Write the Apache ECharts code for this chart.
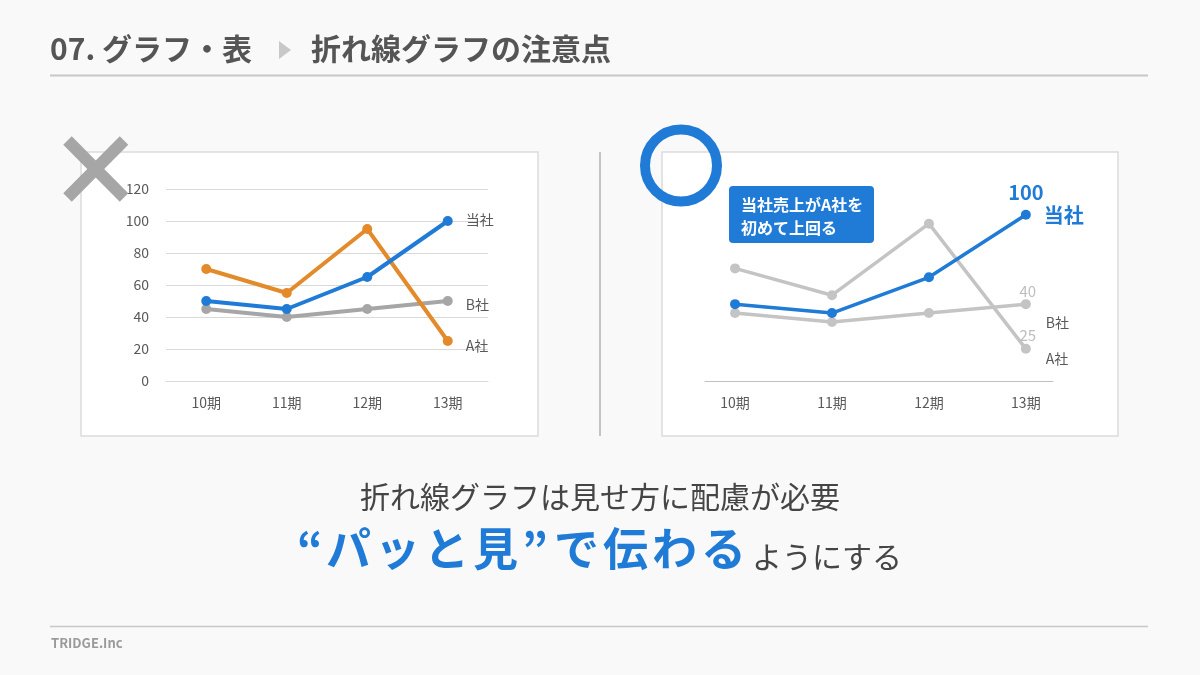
<!DOCTYPE html>
<html>
<head>
<meta charset="utf-8">
<script src="https://cdn.jsdelivr.net/npm/echarts@6/dist/echarts.min.js"></script>
<style>
html,body{margin:0;padding:0;background:#f9f9f9;}
#c{width:1200px;height:675px;}
</style>
</head>
<body>
<div id="c"></div>
<script>
// ---- data ----
const categories = ['10期', '11期', '12期', '13期'];
const ourSales = [50, 45, 65, 100];   // 当社
const companyA = [70, 55, 95, 25];    // A社
const companyB = [45, 40, 45, 50];    // B社
const seriesNames = ['当社', 'A社', 'B社'];
const yTicks = [0, 20, 40, 60, 80, 100, 120];
// value texts printed at the end of the right-hand chart (as shown in the picture)
const rightEndTexts = { ours: '100', B: '40', A: '25' };
const headline = '“パッと見”で伝わる';
const headlineTail = 'ようにする';

const FONT = '"Noto Sans CJK JP", "Noto Sans", sans-serif';
const BLUE = '#1f7bd6';
const ORANGE = '#e38a2a';
const GRAY_L = '#a6a6a6';
const GRAY_R = '#c4c4c4';
const LABEL = '#595959';

function lastLabel(arr, opts) {
  return arr.map((v, i) => i === arr.length - 1 ? { value: v, label: opts } : v);
}
function pairsWithLast(arr, lab) {
  return arr.map((v, i) => i === arr.length - 1 ? { value: [i, v], label: lab } : [i, v]);
}

const headlineRich = Array.from(headline).map(c =>
  c === '“' ? '{qo|“}' : c === '”' ? '{qc|”}' : '{a|' + c + '}'
).join('') + '{b|' + headlineTail + '}';

const chart = echarts.init(document.getElementById('c'), null, { renderer: 'canvas' });

const leftNameLabel = (name, dy) => ({
  show: true, position: 'right', distance: 13, offset: [0, dy],
  formatter: name, color: LABEL, fontSize: 14, fontFamily: FONT
});

const option = {
  backgroundColor: '#f9f9f9',
  animation: false,
  textStyle: { fontFamily: FONT },
  grid: [
    { left: 166, right: 712, top: 189, bottom: 294 },
    { left: 705, right: 147, top: 179, bottom: 294 }
  ],
  xAxis: [
    {
      gridIndex: 0, type: 'category', data: categories, boundaryGap: true,
      axisLine: { lineStyle: { color: '#d9d9d9', width: 1 } },
      axisTick: { show: false },
      axisLabel: { color: LABEL, fontSize: 14, margin: 15, fontFamily: FONT }
    },
    {
      gridIndex: 1, type: 'value', min: -0.31, max: 3.28,
      axisLine: { show: true, onZero: false, lineStyle: { color: '#c0c0c0', width: 1 } },
      axisTick: { show: false },
      splitLine: { show: false },
      axisLabel: {
        customValues: [0, 1, 2, 3],
        formatter: v => categories[Math.round(v)],
        color: LABEL, fontSize: 14, margin: 15, fontFamily: FONT
      }
    }
  ],
  yAxis: [
    {
      gridIndex: 0, type: 'value', min: 0, max: 120, interval: 20,
      axisLine: { show: false }, axisTick: { show: false },
      splitLine: { lineStyle: { color: '#d9d9d9', width: 1 } },
      axisLabel: { color: LABEL, fontSize: 14, margin: 17, fontFamily: FONT,
        customValues: yTicks }
    },
    {
      gridIndex: 1, type: 'value', min: 7, max: 120, show: false
    }
  ],
  series: [
    // left chart
    {
      name: seriesNames[2], type: 'line', xAxisIndex: 0, yAxisIndex: 0,
      data: lastLabel(companyB, leftNameLabel('B社', 4)),
      symbol: 'circle', symbolSize: 10,
      lineStyle: { color: GRAY_L, width: 4 }, itemStyle: { color: GRAY_L }, z: 2
    },
    {
      name: seriesNames[1], type: 'line', xAxisIndex: 0, yAxisIndex: 0,
      data: lastLabel(companyA, leftNameLabel('A社', 5)),
      symbol: 'circle', symbolSize: 10,
      lineStyle: { color: ORANGE, width: 4 }, itemStyle: { color: ORANGE }, z: 3
    },
    {
      name: seriesNames[0], type: 'line', xAxisIndex: 0, yAxisIndex: 0,
      data: lastLabel(ourSales, leftNameLabel('当社', -1)),
      symbol: 'circle', symbolSize: 10,
      lineStyle: { color: BLUE, width: 4 }, itemStyle: { color: BLUE }, z: 4
    },
    // right chart
    {
      name: seriesNames[1], type: 'line', xAxisIndex: 1, yAxisIndex: 1,
      data: pairsWithLast(companyA, {
        show: true, position: 'top', distance: 1, offset: [2, 0],
        formatter: rightEndTexts.A, color: '#bdbdbd', fontSize: 15, fontFamily: FONT
      }),
      symbol: 'circle', symbolSize: 10,
      lineStyle: { color: GRAY_R, width: 3.5 }, itemStyle: { color: GRAY_R },
      endLabel: { show: true, formatter: 'A社', distance: 20, offset: [0, 10],
        color: LABEL, fontSize: 14, fontFamily: FONT },
      z: 2
    },
    {
      name: seriesNames[2], type: 'line', xAxisIndex: 1, yAxisIndex: 1,
      data: pairsWithLast(companyB, {
        show: true, position: 'top', distance: 0, offset: [2, 0],
        formatter: rightEndTexts.B, color: '#bdbdbd', fontSize: 15, fontFamily: FONT
      }),
      symbol: 'circle', symbolSize: 10,
      lineStyle: { color: GRAY_R, width: 3.5 }, itemStyle: { color: GRAY_R },
      endLabel: { show: true, formatter: 'B社', distance: 20, offset: [0, 19],
        color: LABEL, fontSize: 14, fontFamily: FONT },
      z: 2
    },
    {
      name: seriesNames[0], type: 'line', xAxisIndex: 1, yAxisIndex: 1,
      data: pairsWithLast(ourSales, {
        show: true, position: 'top', distance: 7, offset: [0, 0],
        formatter: rightEndTexts.ours, color: BLUE, fontSize: 20, fontWeight: 'bold', fontFamily: FONT
      }),
      symbol: 'circle', symbolSize: 10,
      lineStyle: { color: BLUE, width: 3.5 }, itemStyle: { color: BLUE },
      endLabel: { show: true, formatter: '当社', distance: 18, offset: [0, 1],
        color: BLUE, fontSize: 20, fontWeight: 'bold', fontFamily: FONT },
      z: 4
    }
  ],
  graphic: [
    // chart boxes
    { type: 'rect', z: -10, shape: { x: 81, y: 152, width: 457, height: 284 },
      style: { fill: '#ffffff', stroke: '#dcdcdc', lineWidth: 1.5 } },
    { type: 'rect', z: -10, shape: { x: 662, y: 152, width: 456, height: 284 },
      style: { fill: '#ffffff', stroke: '#dcdcdc', lineWidth: 1.5 } },
    // divider
    { type: 'line', z: -10, shape: { x1: 600, y1: 152, x2: 600, y2: 436 },
      style: { stroke: '#c4c4c4', lineWidth: 2 } },
    // header
    { type: 'text', z: 10, style: { text: '07. グラフ・表', x: 50, y: 49,
      font: 'bold 30px ' + FONT, fill: '#555555', align: 'left', verticalAlign: 'middle',
      textAlign: 'left', textVerticalAlign: 'middle' } },
    { type: 'polygon', z: 10, shape: { points: [[279, 41], [291, 50], [279, 59]] },
      style: { fill: '#c8c8c8' } },
    { type: 'text', z: 10, style: { text: '折れ線グラフの注意点', x: 311, y: 49,
      font: 'bold 30px ' + FONT, fill: '#555555', align: 'left', verticalAlign: 'middle',
      textAlign: 'left', textVerticalAlign: 'middle' } },
    { type: 'line', z: 10, shape: { x1: 50, y1: 75.5, x2: 1148, y2: 75.5 },
      style: { stroke: '#c8c8c8', lineWidth: 2 } },
    // X mark
    { type: 'line', z: 20, shape: { x1: 67.5, y1: 140.5, x2: 124, y2: 197.5 },
      style: { stroke: '#a6a6a6', lineWidth: 12, lineCap: 'butt' } },
    { type: 'line', z: 20, shape: { x1: 124, y1: 140.5, x2: 67.5, y2: 197.5 },
      style: { stroke: '#a6a6a6', lineWidth: 12, lineCap: 'butt' } },
    // O mark
    { type: 'circle', z: 20, shape: { cx: 681, cy: 165.5, r: 36 },
      style: { fill: 'none', stroke: BLUE, lineWidth: 10 } },
    // callout
    { type: 'rect', z: 20, shape: { x: 729, y: 186, width: 145, height: 57, r: 4 },
      style: { fill: BLUE } },
    { type: 'text', z: 21, style: { text: '当社売上がA社を\n初めて上回る', x: 741, y: 216,
      font: 'bold 16px ' + FONT, lineHeight: 23, fill: '#ffffff', align: 'left', verticalAlign: 'middle',
      textAlign: 'left', textVerticalAlign: 'middle' } },
    // bottom message
    { type: 'text', z: 10, style: { text: '折れ線グラフは見せ方に配慮が必要', x: 600, y: 497,
      font: '30px ' + FONT, fill: '#454545', align: 'center', verticalAlign: 'middle',
      textAlign: 'center', textVerticalAlign: 'middle' } },
    { type: 'text', z: 10, style: {
      text: headlineRich, x: 297, y: 549,
      align: 'left', verticalAlign: 'middle', textAlign: 'left', textVerticalAlign: 'middle',
      rich: {
        a: { fontSize: 45, fontWeight: 'bold', fontFamily: FONT, fill: BLUE, lineHeight: 45, width: 49 },
        qo: { fontSize: 45, fontWeight: 'bold', fontFamily: FONT, fill: BLUE, lineHeight: 45, width: 29 },
        qc: { fontSize: 45, fontWeight: 'bold', fontFamily: FONT, fill: BLUE, lineHeight: 45, width: 32 },
        b: { fontSize: 30, fontFamily: FONT, fill: '#454545', lineHeight: 31, verticalAlign: 'bottom', padding: [0, 0, 0, 2] }
      } } },
    // footer
    { type: 'line', z: 10, shape: { x1: 50, y1: 626.5, x2: 1148, y2: 626.5 },
      style: { stroke: '#c8c8c8', lineWidth: 1.5 } },
    { type: 'text', z: 10, style: { text: 'TRIDGE.Inc', x: 51, y: 643,
      font: 'bold 13px ' + FONT, fill: '#9a9a9a', align: 'left', verticalAlign: 'middle',
      textAlign: 'left', textVerticalAlign: 'middle' } }
  ]
};
chart.setOption(option);
</script>
</body>
</html>
